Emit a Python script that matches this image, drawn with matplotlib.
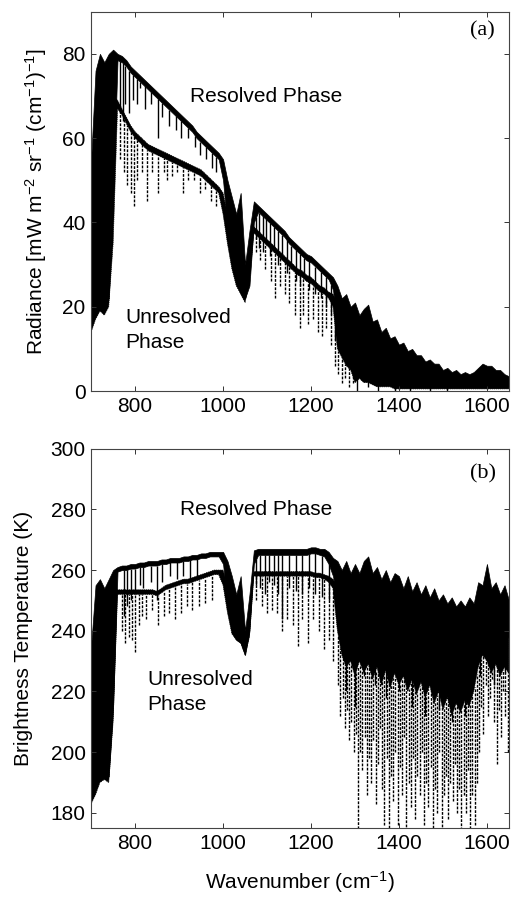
import numpy as np
import matplotlib
matplotlib.use("Agg")
import matplotlib.pyplot as plt

plt.rcParams["font.family"] = ["Liberation Sans", "DejaVu Sans"]
plt.rcParams["mathtext.fontset"] = "custom"
plt.rcParams["mathtext.rm"] = "Liberation Sans"
plt.rcParams["mathtext.default"] = "regular"

# wavenumber grid (cm-1), one sample every 10 cm-1
wn = np.arange(700, 1651, 10)

# ---- panel (a): radiance, band top / band bottom ----
rad_res_hi = [55, 76, 80, 78, 80, 81, 80, 79.5, 78.5, 77,
              76, 75, 74, 73, 72, 71, 70, 69, 68, 67,
              66, 65, 64, 63, 61.5, 60.5, 59.5, 58.5, 57.5, 56.5,
              55, 50, 46, 42, 47, 30, 38, 45, 44, 43,
              42, 41, 40, 39, 38, 36.5, 35.5, 34.5, 33.5, 32.5,
              32, 31, 30, 29, 28, 27, 25, 22, 23, 20,
              21, 18, 19.5, 20.5, 16.5, 17, 14, 15, 12.5, 13,
              11, 11.5, 9.5, 10, 8.5, 8.5, 7, 7.5, 6.5, 6.5,
              5, 5.5, 4.5, 5, 4, 4.5, 4, 4.5, 5.5, 6.5,
              6, 6, 5, 5, 4, 3.5]
rad_res_lo = [15, 20, 22, 20, 22, 45, 78.5, 78, 77, 75.5,
              74.5, 73.5, 72.5, 71.5, 70.5, 69.5, 68.5, 67.5, 66.5, 65.5,
              64.5, 63.5, 62.5, 61.5, 60, 59, 58, 57, 56, 55,
              50, 38, 33, 28, 25, 22, 25, 40, 42.5, 41.5,
              40.5, 39.5, 38.5, 37.5, 36.5, 35, 34, 33, 32, 31,
              30.5, 29.5, 28.5, 27.5, 26.5, 24, 15, 12, 10, 8,
              7, 6, 5, 5, 4, 4, 3.5, 3, 3, 2.5,
              2, 2, 2, 1.5, 1.5, 1.5, 1, 1, 1, 1,
              1, 1, 1, 1, 1, 1, 1, 1, 1, 1,
              1, 1, 1, 1, 1, 1]
rad_unr_hi = [50, 65, 70, 68, 70, 70, 69, 67, 65, 63,
              61.5, 60.5, 59.5, 58.5, 58, 57.5, 57, 56.5, 56, 55.5,
              55, 54.5, 54, 53.5, 53, 52.5, 51.5, 50.5, 49.5, 48.5,
              47, 42, 36, 30, 27, 23, 32, 39, 38, 37,
              36, 35, 34, 33, 32, 31, 30, 29, 28.5, 27.5,
              27, 26, 25, 24.5, 23.5, 23, 21, 19, 17, 15,
              13, 13, 14, 15, 12, 12, 10, 11, 9, 8.5,
              8, 7.5, 7, 6.5, 6, 6, 5.5, 5, 5, 4.5,
              4, 4, 3.5, 3.5, 3, 3, 3, 3, 4, 4.5,
              4.5, 4, 3.5, 3, 3, 2.5]
rad_unr_lo = [14, 17, 19, 18, 20, 35, 67, 65.5, 63.5, 61.5,
              60, 59, 58, 57, 56.5, 56, 55.5, 55, 54.5, 54,
              53.5, 53, 52.5, 52, 51.5, 51, 50, 49, 48, 47,
              42, 35, 29, 25, 23, 21, 26, 37.5, 36.5, 35.5,
              34.5, 33.5, 32.5, 31.5, 30.5, 29.5, 28.5, 27.5, 27, 26,
              25.5, 24.5, 23.5, 23, 22, 20, 10, 8, 6, 5,
              2, 3, 2, 2, 1.5, 1, 1, 1, 1, 0.5,
              0.5, 0.5, 0.5, 0.5, 0.5, 0.5, 0.5, 0.5, 0.5, 0.5,
              0.5, 0.5, 0.5, 0.5, 0.5, 0.5, 0.5, 0.5, 0.5, 0.5,
              0.5, 0.5, 0.5, 0.5, 0.5, 0.5]

# individual absorption lines (position, minimum) in panel (a)
rad_res_dip_wn = [765, 772, 778, 787, 795, 805, 812, 822, 835, 852, 862, 878, 893,
                  905, 920, 937, 948, 962, 975, 985, 1075, 1082, 1090, 1098, 1106,
                  1115, 1125, 1135, 1145, 1155, 1165, 1175, 1185, 1195, 1210, 1222,
                  1235, 1245, 1255, 1305, 1330, 1352, 1390, 1425, 1470, 1510]
rad_res_dip_val = [66, 64, 68, 66, 69, 68, 72, 67, 68, 60, 65, 63, 62,
                   60, 60, 58, 56, 55, 53, 52, 36, 34, 33, 35, 32,
                   33, 30, 31, 28, 29, 26, 25, 27, 24, 23, 22,
                   20, 18, 12, 0, 1, 0, 0, 0, 0, 0]
rad_unr_dip_wn = [765, 775, 782, 790, 797, 805, 815, 828, 838, 852, 865, 872, 885,
                  895, 909, 920, 933, 948, 960, 972, 985, 1075, 1085, 1095, 1108,
                  1118, 1130, 1140, 1150, 1163, 1175, 1182, 1192, 1205, 1215, 1225,
                  1235, 1245, 1255, 1262, 1270, 1278, 1286, 1295]
rad_unr_dip_val = [55, 52, 49, 47, 44, 50, 52, 45, 52, 47, 52, 50, 51,
                   52, 47, 50, 50, 47, 48, 45, 44, 33, 31, 29, 26,
                   22, 25, 23, 21, 18, 15, 18, 16, 17, 14, 13,
                   15, 11, 6, 4, 2, 3, 1, 2]

# ---- panel (b): brightness temperature ----
bt_res_hi = [235, 255, 257, 254, 257, 260, 261, 261.5, 261.5, 262,
             262, 262.5, 262.5, 263, 263, 263, 263.5, 263.5, 264, 264,
             264, 264.5, 264.5, 265, 265, 265.5, 265.5, 266, 266, 266,
             266, 263, 258, 252, 258, 240, 252, 266.5, 267, 267,
             267, 267, 267, 267, 267, 267, 267, 267, 267, 267,
             267.5, 267.5, 267, 267, 266, 264, 263, 260, 263, 259,
             262, 259, 263, 264.5, 259, 261, 257, 260, 256, 259,
             258, 254, 258, 253, 256, 252, 255, 251, 254, 250,
             252, 249, 251, 248, 250, 248, 251, 249, 256, 255,
             262, 254, 256, 252, 255, 250]
bt_res_lo = [185, 190, 193, 192, 192, 215, 259.5, 260, 260, 260.5,
             260.5, 261, 261, 261.5, 261.5, 261.5, 262, 262, 262.5, 262.5,
             262.5, 263, 263, 263.5, 263.5, 264, 264, 264.5, 264.5, 264.5,
             262, 248, 240, 237, 236, 232, 240, 262, 265, 265,
             265, 265, 265, 265, 265, 265, 265, 265, 265, 265,
             265.5, 265.5, 265, 264.5, 262, 258, 250, 245, 243, 242,
             240, 241, 240, 242, 240, 239, 240, 238, 239, 237,
             238, 236, 237, 235, 236, 234, 235, 233, 234, 232,
             233, 231, 232, 231, 233, 232, 234, 236, 240, 242,
             240, 240, 239, 240, 238, 238]
bt_unr_hi = [230, 248, 250, 248, 250, 253, 253.5, 253.5, 253.5, 253.5,
             253.5, 253.5, 253.5, 253.5, 253.5, 253, 254, 255, 255.5, 256,
             256.5, 257, 257, 257.5, 258, 258.5, 259, 259.5, 260, 260,
             260, 255, 248, 243, 240, 235, 245, 259.5, 259.5, 259.5,
             259.5, 259.5, 259.5, 259.5, 259.5, 259.5, 259.5, 259.5, 259.5, 259.5,
             259.5, 259, 259, 258.5, 258, 257, 255, 255, 254, 254,
             253, 253, 254, 253, 252, 252, 251, 250, 250, 249,
             249, 248, 248, 247, 246, 246, 245, 245, 244, 243,
             242, 242, 241, 242, 243, 244, 245, 246, 248, 249,
             248, 247, 246, 245, 244, 243]
bt_unr_lo = [183, 186, 190, 191, 190, 210, 252, 252, 252, 252,
             252, 252, 252, 252, 252, 251.5, 252.5, 253.5, 254, 254.5,
             255, 255.5, 255.5, 256, 256.5, 257, 257.5, 258, 258.5, 258.5,
             255, 246, 239, 237, 236, 232, 238, 258, 258, 258,
             258, 258, 258, 258, 258, 258, 258, 258, 258, 258,
             258, 257.5, 257.5, 257, 256, 254, 240, 232, 228, 230,
             225, 230, 226, 229, 224, 228, 222, 227, 221, 226,
             222, 225, 220, 224, 219, 223, 218, 222, 216, 220,
             214, 218, 212, 216, 213, 217, 215, 220, 228, 232,
             230, 226, 229, 225, 228, 226]

bt_res_dip_wn = [775, 782, 790, 800, 810, 818, 835, 850, 862, 880, 895, 910, 925,
                 940, 1075, 1085, 1095, 1105, 1115, 1125, 1135, 1150, 1165, 1180,
                 1195, 1210, 1225, 1240, 1280, 1300, 1320, 1345, 1370, 1400, 1430,
                 1460, 1490, 1520, 1550, 1585, 1615, 1640]
bt_res_dip_val = [245, 248, 250, 252, 255, 254, 256, 250, 256, 258, 257, 258, 257,
                  258, 255, 254, 252, 256, 255, 252, 244, 254, 253, 252,
                  254, 252, 251, 250, 220, 215, 225, 222, 218, 220, 215,
                  212, 214, 210, 212, 225, 222, 226]
bt_unr_dip_wn = [770, 778, 785, 792, 800, 808, 815, 825, 838, 852, 865, 878, 890,
                 905, 918, 930, 945, 960, 975, 1075, 1088, 1100, 1112, 1122, 1133,
                 1145, 1160, 1170, 1180, 1192, 1205, 1218, 1230, 1240, 1250,
                 1262, 1267, 1272, 1277, 1282, 1287, 1292, 1297, 1302, 1306, 1312,
                 1317, 1322, 1327, 1332, 1337, 1342, 1347, 1352, 1357, 1362, 1367,
                 1372, 1377, 1382, 1387, 1392, 1397, 1402, 1407, 1412, 1417, 1422,
                 1427, 1432, 1437, 1442, 1447, 1452, 1457, 1462, 1467, 1472, 1477,
                 1482, 1487, 1492, 1497, 1502, 1507, 1512, 1517, 1522, 1527, 1532,
                 1537, 1542, 1547, 1552, 1557, 1562, 1567, 1572, 1577, 1582, 1587,
                 1592, 1597, 1602, 1607, 1612, 1617, 1622, 1627, 1632, 1637, 1642,
                 1647]
bt_unr_dip_val = [240, 236, 238, 237, 233, 242, 245, 244, 247, 242, 245, 246, 244,
                  246, 248, 247, 248, 249, 250, 250, 248, 246, 247, 246, 240,
                  244, 242, 235, 244, 236, 244, 240, 234, 237, 230,
                  222, 212, 218, 208, 214, 204, 210, 200, 206, 172, 200,
                  194, 205, 186, 198, 190, 204, 183, 196, 208, 188, 176,
                  198, 175, 192, 184, 200, 176, 195, 186, 205, 174, 190,
                  182, 198, 178, 192, 186, 200, 176, 190, 182, 195, 175,
                  188, 180, 200, 174, 186, 192, 178, 190, 184, 196, 180,
                  188, 173, 186, 180, 194, 172, 186, 176, 190, 200, 215,
                  206, 222, 212, 218, 224, 210, 196, 214, 205, 220, 212,
                  200]


def draw_series(ax, hi, lo, dip_wn, dip_val, ls):
    ax.fill_between(wn, lo, hi, color="k", lw=0.5, linestyle=ls)
    top = np.interp(dip_wn, wn, lo)
    ax.vlines(dip_wn, dip_val, top, colors="k", lw=1.0, linestyles=ls)


def style_axes(ax, ylim, yticks):
    ax.set_xlim(700, 1650)
    ax.set_ylim(*ylim)
    ax.set_xticks([800, 1000, 1200, 1400, 1600])
    ax.set_yticks(yticks)
    ax.tick_params(direction="in", top=True, right=True, length=3.5, width=0.7,
                   labelsize=15, pad=4, colors="#333333", labelcolor="k")
    for s in ax.spines.values():
        s.set_linewidth(0.8)
        s.set_color("#444444")


fig = plt.figure(figsize=(5.12, 9.01), dpi=100)
ax1 = fig.add_axes([0.178, 0.566, 0.816, 0.421])
ax2 = fig.add_axes([0.178, 0.081, 0.816, 0.421])

dash = (0, (2, 1))
draw_series(ax1, rad_unr_hi, rad_unr_lo, rad_unr_dip_wn, rad_unr_dip_val, dash)
draw_series(ax1, rad_res_hi, rad_res_lo, rad_res_dip_wn, rad_res_dip_val, "-")
style_axes(ax1, (0, 90), [0, 20, 40, 60, 80])
ax1.set_ylabel("Radiance [mW m$^{-2}$ sr$^{-1}$ (cm$^{-1}$)$^{-1}$]", fontsize=15)
ax1.yaxis.set_label_coords(-0.10, 0.5)
ax1.text(925, 70, "Resolved Phase", fontsize=15, va="center")
ax1.text(777, 14.5, "Unresolved\nPhase", fontsize=15, va="center", linespacing=1.4)
ax1.text(1562, 85.5, "(a)", fontsize=16, va="center", family="Liberation Serif")

draw_series(ax2, bt_unr_hi, bt_unr_lo, bt_unr_dip_wn, bt_unr_dip_val, dash)
draw_series(ax2, bt_res_hi, bt_res_lo, bt_res_dip_wn, bt_res_dip_val, "-")
style_axes(ax2, (175, 300), [180, 200, 220, 240, 260, 280, 300])
ax2.set_ylabel("Brightness Temperature (K)", fontsize=15)
ax2.yaxis.set_label_coords(-0.14, 0.5)
ax2.set_xlabel("Wavenumber (cm$^{-1}$)", fontsize=15, labelpad=12)
ax2.text(902, 280, "Resolved Phase", fontsize=15, va="center")
ax2.text(827, 219.8, "Unresolved\nPhase", fontsize=15, va="center", linespacing=1.4)
ax2.text(1562, 291.6, "(b)", fontsize=16, va="center", family="Liberation Serif")

fig.savefig("out.png", dpi=100)
